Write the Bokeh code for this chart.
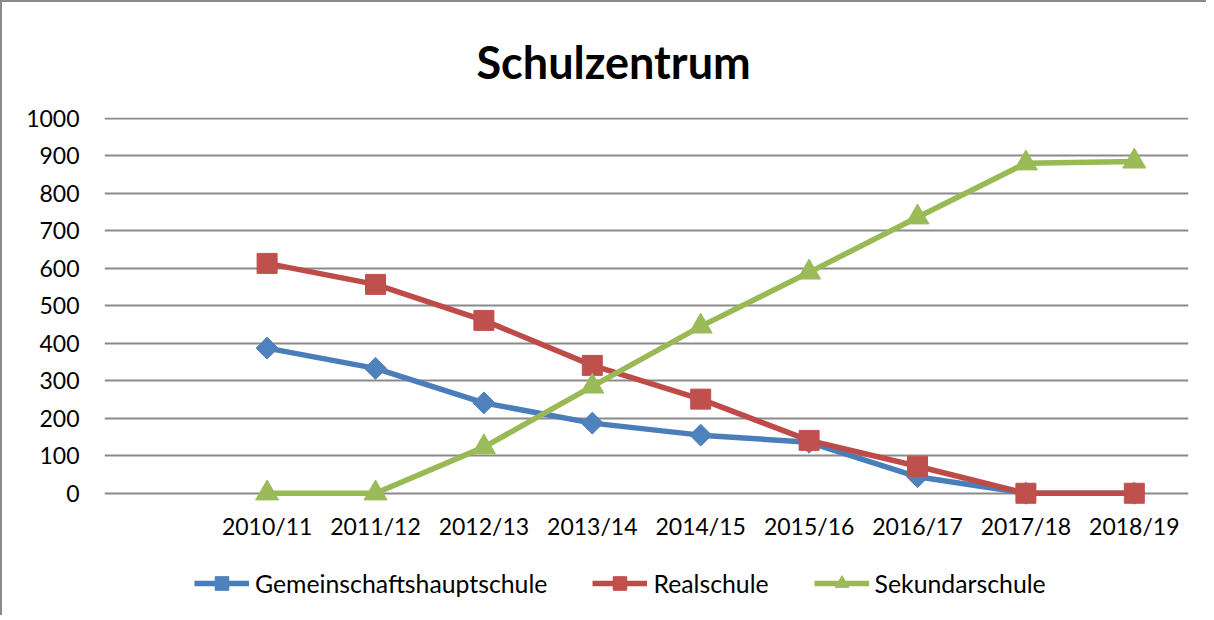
from bokeh.plotting import figure
from bokeh.models import FactorRange, Range1d, Legend, LegendItem, ColumnDataSource
from bokeh.embed import file_html
from bokeh.resources import INLINE
import numpy as np

# ---- data ----
categories = ["2010/11", "2011/12", "2012/13", "2013/14", "2014/15",
              "2015/16", "2016/17", "2017/18", "2018/19"]
gemeinschaftshauptschule = [387, 333, 241, 187, 155, 136, 44, 0, 0]
realschule = [613, 557, 461, 341, 251, 141, 72, 0, 0]
sekundarschule = [0, 0, 123, 285, 445, 589, 736, 880, 885]
series_names = ["Gemeinschaftshauptschule", "Realschule", "Sekundarschule"]
y_ticks = [0, 100, 200, 300, 400, 500, 600, 700, 800, 900, 1000]

FONT = "Lato"
factors = [" "] + categories

p = figure(width=1206, height=615, output_backend="svg", toolbar_location=None,
           x_range=FactorRange(factors=factors),
           y_range=Range1d(-331.3, 1002),
           min_border_left=102, min_border_right=20,
           min_border_top=115, min_border_bottom=0,
           title="Schulzentrum")
p.styles = {"border-left": "2px solid #8a8a8a", "border-top": "2px solid #8a8a8a"}

p.title.align = "left"
p.title.offset = 372
p.title.text_font = FONT
p.title.text_font_size = "45px"
p.title.text_font_style = "bold"
p.title.text_color = "black"
p.title.standoff = 58

p.outline_line_color = None
p.background_fill_color = "white"
p.border_fill_color = "white"

# axes
p.xaxis.fixed_location = 0
p.xaxis.axis_line_color = None
p.xaxis.major_tick_line_color = None
p.xaxis.minor_tick_line_color = None
p.xaxis.major_tick_out = 0
p.xaxis.major_tick_in = 0
p.xaxis.major_label_standoff = 19
p.xaxis.major_label_text_font = FONT
p.xaxis.major_label_text_font_size = "23px"
p.xaxis.major_label_text_color = "black"

p.yaxis.axis_line_color = None
p.yaxis.major_tick_line_color = None
p.yaxis.minor_tick_line_color = None
p.yaxis.major_tick_out = 0
p.yaxis.major_label_standoff = 25
p.yaxis.ticker = y_ticks
p.yaxis.major_label_text_font = FONT
p.yaxis.major_label_text_font_size = "23px"
p.yaxis.major_label_text_color = "black"

p.xgrid.grid_line_color = None
p.ygrid.ticker = y_ticks
p.ygrid.grid_line_color = "#8a8a8a"
p.ygrid.grid_line_width = 2

line_colors = ["#4A7EBB", "#BE4B48", "#98B954"]
marker_colors = ["#4F81BD", "#C0504D", "#9BBB59"]
markers = ["square", "square", "triangle"]
sizes = [15.5, 20, 23]
angles = [np.pi / 4, 0, 0]
values = [gemeinschaftshauptschule, realschule, sekundarschule]

items = []
for name, vals, lc, mc, mk, sz, ang in zip(series_names, values, line_colors,
                                           marker_colors, markers, sizes, angles):
    src = ColumnDataSource(dict(x=categories, y=vals))
    lr = p.line("x", "y", source=src, line_color=lc, line_width=5.5)
    sr = p.scatter("x", "y", source=src, marker=mk, size=sz, angle=ang,
                   fill_color=mc, line_color=mc)
    items.append(LegendItem(label=name, renderers=[lr, sr]))

legend = Legend(items=items, orientation="horizontal", location=(90, 17),
                glyph_width=55, glyph_height=34, label_standoff=6, spacing=45,
                padding=0, margin=0, border_line_color=None,
                background_fill_alpha=0,
                label_text_font=FONT, label_text_font_size="24.8px",
                label_text_color="black")
p.add_layout(legend, "center")

open("out.html", "w").write(file_html(p, INLINE))
